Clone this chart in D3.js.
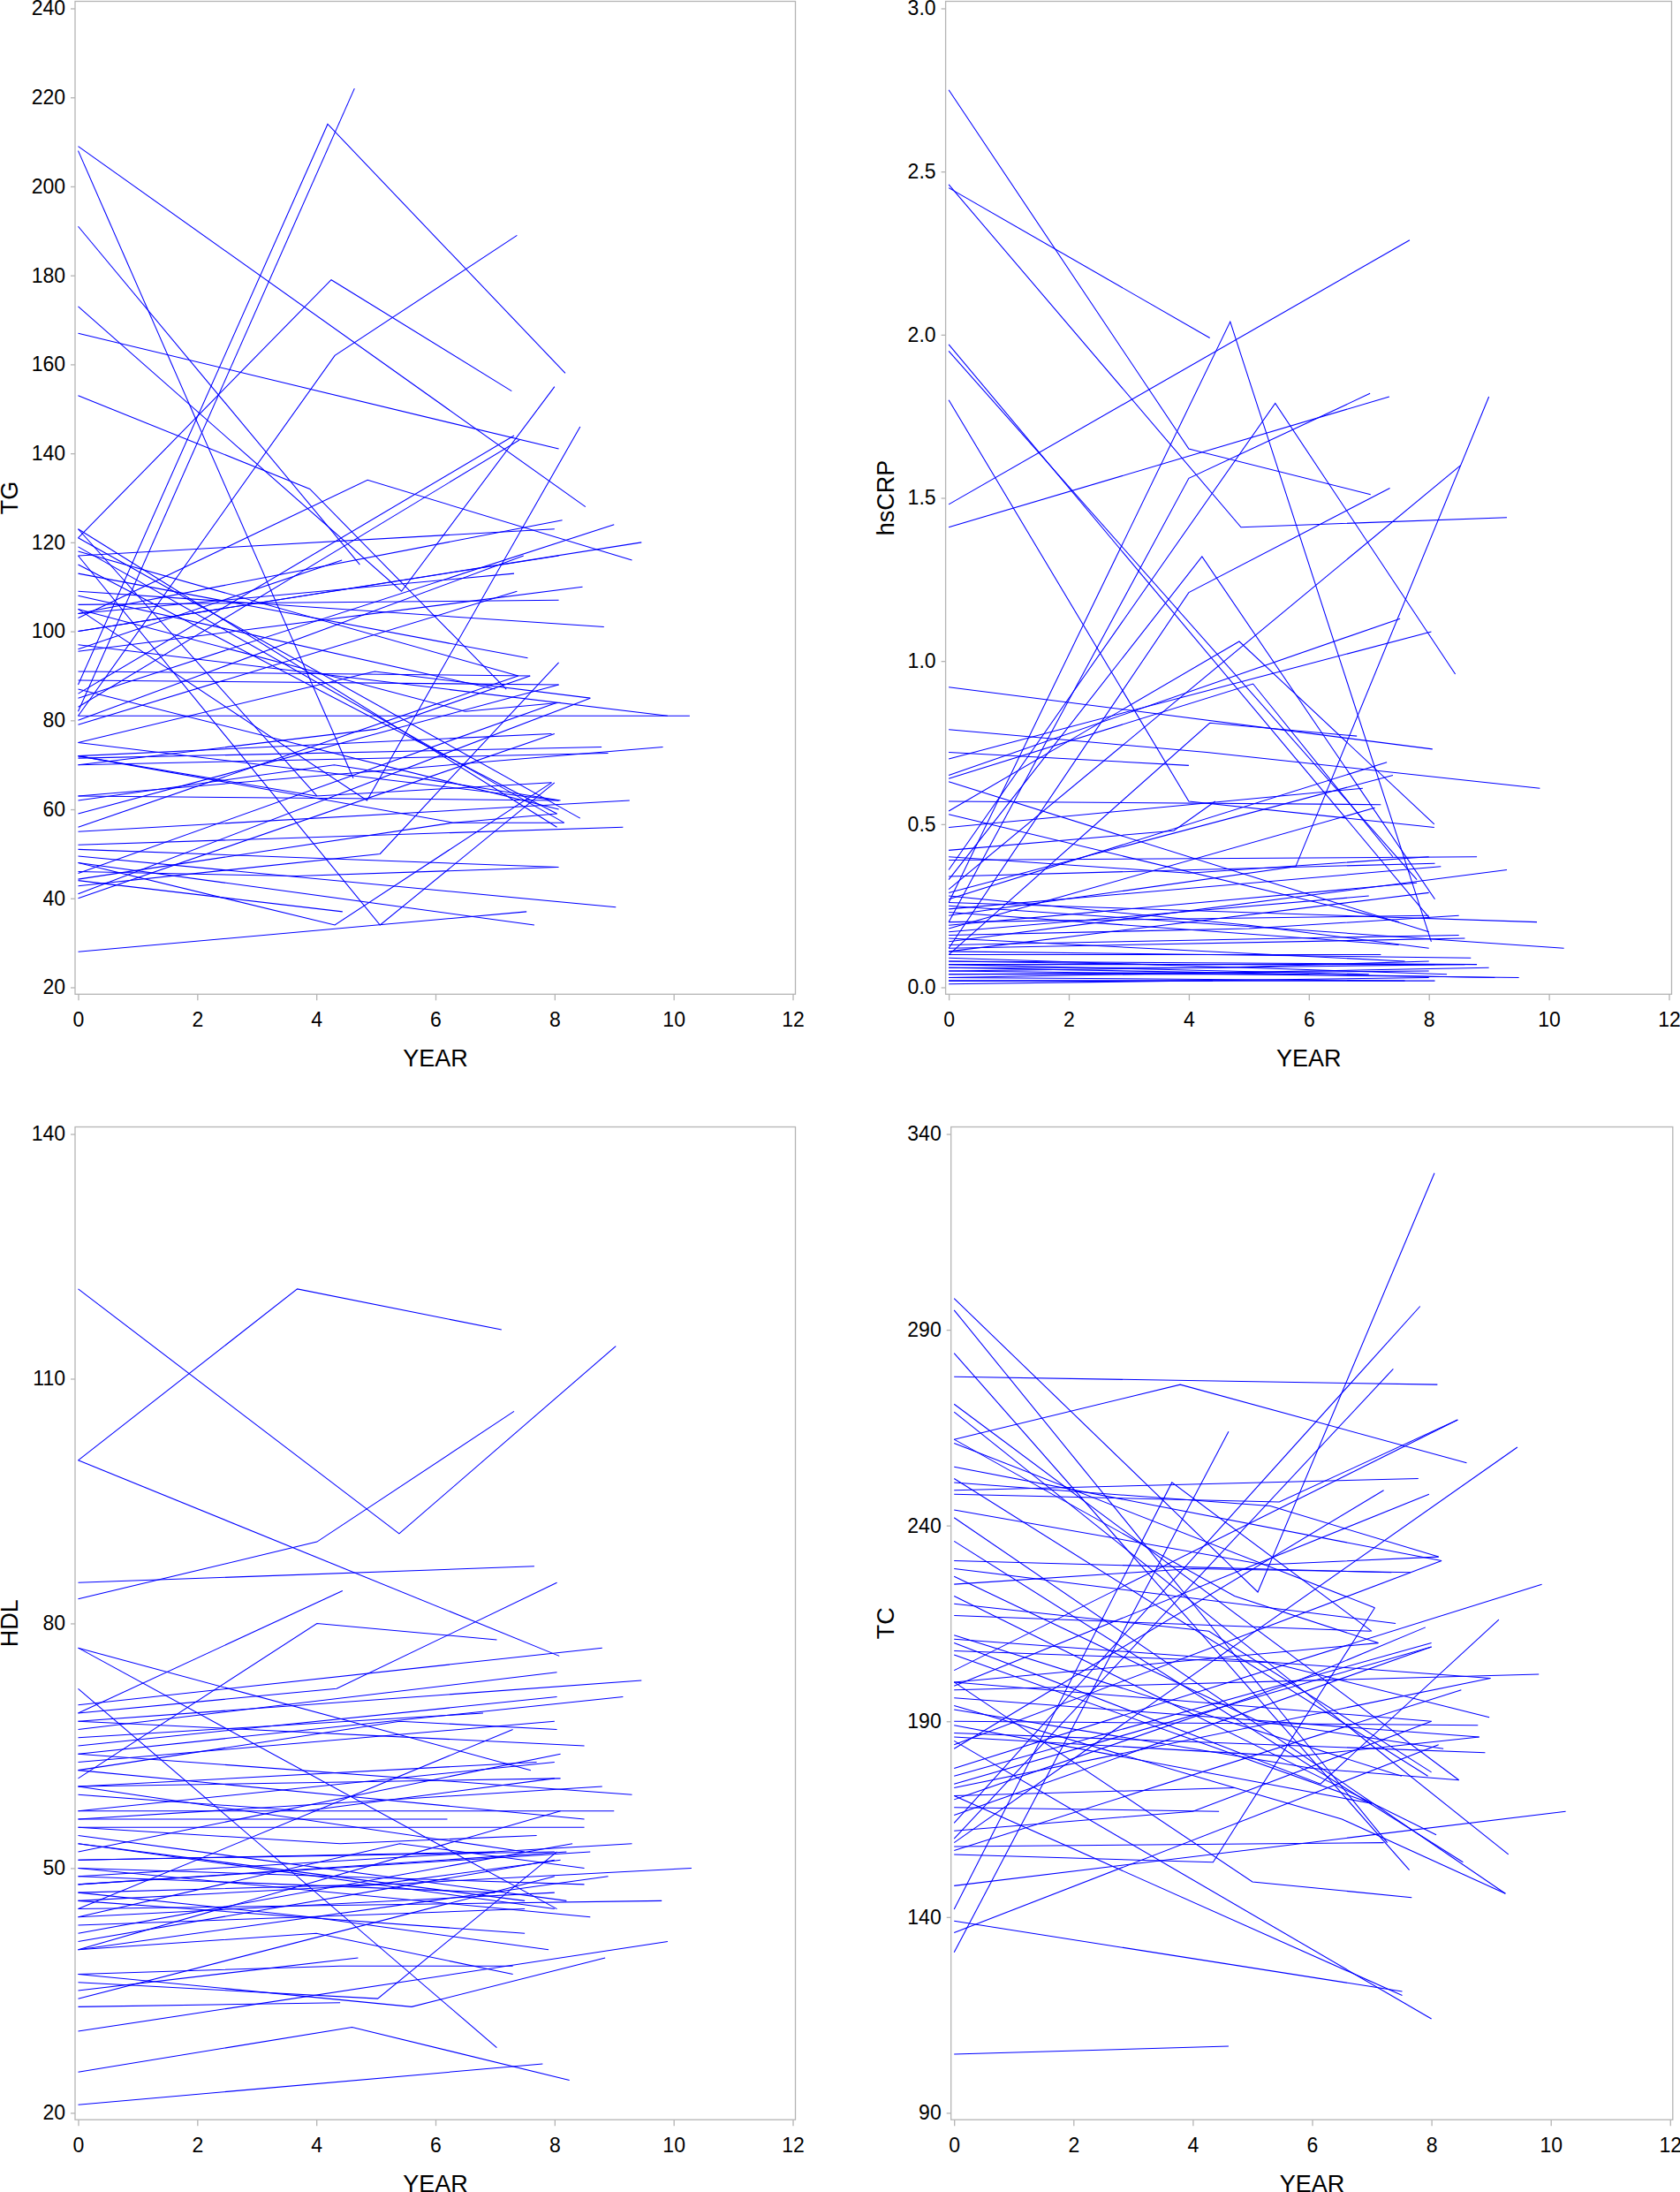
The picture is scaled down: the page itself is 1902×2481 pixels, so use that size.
<!DOCTYPE html>
<html>
<head>
<meta charset="utf-8">
<script src="https://cdn.jsdelivr.net/npm/d3@7"></script>
<style>
  body { margin: 0; background: #fff; }
  svg { display: block; }
  text { font-family: "Liberation Sans", Arial, sans-serif; fill: #000; }
</style>
</head>
<body>
<svg id="chart" width="1902" height="2481"></svg>
<script>
// ---------- tick labels ----------
const yearTicks = [0, 2, 4, 6, 8, 10, 12];
const tgTicks = [20, 40, 60, 80, 100, 120, 140, 160, 180, 200, 220, 240];
const hscrpTicks = [0.0, 0.5, 1.0, 1.5, 2.0, 2.5, 3.0];
const hdlTicks = [20, 50, 80, 110, 140];
const tcTicks = [90, 140, 190, 240, 290, 340];

// ---------- series: one polyline per subject, [YEAR, value] ----------
const tgSeries = [
  [[0,209],[8.52,128]], [[0,208],[4.62,67]], [[0,191],[4.73,115]],
  [[0,173],[5.43,109],[8.0,155]], [[0,167],[8.07,141]], [[0,153],[3.89,132],[7.19,87]],
  [[0,88],[4.19,214],[8.18,158]], [[0,82],[4.64,222]], [[0,121],[4.25,179],[7.28,154]],
  [[0,81],[4.31,162],[7.37,189]], [[0,103],[4.86,134],[9.3,116]], [[0,86],[7.32,144]],
  [[0,83],[7.41,143]], [[0,105],[4.85,62],[8.43,146]], [[0,28],[7.53,37]],
  [[0,48],[4.31,34],[7.95,66]], [[0,117],[5.07,34],[8.0,66]], [[0,123],[4.01,63]],
  [[0,123],[8.04,56]], [[0,121],[8.43,58]], [[0,119],[8.16,57]], [[0,115],[8.04,59]],
  [[0,118],[7.39,90]], [[0,113],[7.55,94]], [[0,96],[4.43,116]], [[0,117],[8.0,123]],
  [[0,104],[8.13,125]], [[0,104],[7.32,113]], [[0,106],[8.07,107]], [[0,100],[8.07,117]],
  [[0,95.5],[8.47,110]], [[0,109],[8.83,101]], [[0,100],[9.46,120]], [[0,85],[9.0,124]],
  [[0,80],[7.48,117]], [[0,79],[7.37,109]], [[0,91],[7.59,90]], [[0,89],[8.07,88]],
  [[0,75],[4.98,91],[8.6,85]], [[0,81],[10.27,81]], [[0,97],[9.9,81]], [[0,72],[7.95,77]],
  [[0,71.5],[8.79,74]], [[0,70],[8.9,72.6]], [[0,63],[9.82,74]], [[0,55],[9.26,62]],
  [[0,52],[9.15,56]], [[0,63],[8.07,62]], [[0,51],[8.07,47]], [[0,59],[8.07,88]],
  [[0,56],[7.39,90]], [[0,45.6],[8.04,84]], [[0,44.3],[6.3,57],[8.16,57]],
  [[0,42.8],[5.07,50],[8.07,93]], [[0,41],[8.6,85]], [[0,40],[8.0,77]],
  [[0,49.5],[9.03,38]], [[0,48],[7.66,34]], [[0,44],[4.44,37]], [[0,72],[4.0,63],[7.95,66]],
  [[0,46],[3.68,45],[8.04,47]], [[0,75],[8.07,62]], [[0,72],[6.3,57],[8.04,59]],
  [[0,105],[6.5,82],[8.1,84]], [[0,108],[7.0,87]], [[0,87],[8.07,60]],
  [[0,62],[4.3,70],[8.1,62]], [[0,70],[5.0,78],[7.59,90]]
];

const hscrpSeries = [
  [[0,2.75],[4.0,1.65],[7.03,1.51]], [[0,2.45],[4.35,1.99]], [[0,2.46],[4.87,1.41],[9.3,1.44]],
  [[0,1.97],[8.02,0.21]], [[0,1.95],[7.8,0.33]], [[0,1.8],[4.0,0.57],[8.09,0.49]],
  [[0,1.48],[7.68,2.29]], [[0,1.41],[7.34,1.81]], [[0,0.26],[4.69,2.04],[8.04,0.14]],
  [[0,0.36],[5.44,1.79],[8.44,0.96]], [[0,0.2],[4.0,1.56],[7.02,1.82]],
  [[0,0.33],[4.22,1.32],[8.1,0.27]], [[0,0.12],[4.0,1.21],[7.35,1.53]],
  [[0,0.3],[8.53,1.6]], [[0,0.22],[5.78,0.37],[9.0,1.81]], [[0,0.65],[7.52,1.13]],
  [[0,0.7],[8.04,1.09]], [[0,0.92],[8.06,0.73]], [[0,0.79],[4.3,0.72],[9.85,0.61]],
  [[0,0.72],[4.0,0.68]], [[0,0.54],[4.84,1.06],[8.09,0.5]], [[0,0.64],[5.07,0.93],[7.4,0.4]],
  [[0,0.1],[4.35,0.81],[6.8,0.77]], [[0,0.42],[3.75,0.48],[4.44,0.57]],
  [[0,0.57],[7.2,0.56]], [[0,0.53],[7.5,0.2]], [[0,0.49],[6.9,0.61]], [[0,0.63],[8.0,0.17]],
  [[0,0.4],[4.0,0.35],[8.0,0.4]], [[0,0.27],[7.3,0.69]], [[0,0.29],[7.4,0.65]],
  [[0,0.39],[8.8,0.4]], [[0,0.34],[8.1,0.38]], [[0,0.24],[8.2,0.37]], [[0,0.18],[7.1,0.55]],
  [[0,0.14],[9.3,0.36]], [[0,0.26],[9.8,0.2]], [[0,0.16],[5.0,0.18],[8.5,0.22]],
  [[0,0.25],[10.25,0.12]], [[0,0.2],[8.0,0.22]], [[0,0.12],[8.6,0.15]], [[0,0.23],[7.5,0.13]],
  [[0,0.17],[7.0,0.28]], [[0,0.11],[8.0,0.29]], [[0,0.28],[5.0,0.19],[8.0,0.12]],
  [[0,0.08],[8.8,0.07]], [[0,0.06],[9.1,0.03]], [[0,0.05],[9.5,0.03]], [[0,0.07],[8.1,0.07]],
  [[0,0.04],[8.0,0.05]], [[0,0.03],[7.6,0.02]], [[0,0.09],[8.3,0.04]], [[0,0.02],[8.1,0.02]],
  [[0,0.06],[4.5,0.06],[8.0,0.08]], [[0,0.1],[7.2,0.1]], [[0,0.13],[8.5,0.16]],
  [[0,0.04],[6.0,0.04]], [[0,0.15],[7.6,0.08]], [[0,0.01],[8.0,0.03]], [[0,0.08],[3.5,0.07]],
  [[0,0.05],[8.6,0.07]], [[0,0.19],[7.8,0.32]], [[0,0.03],[9.0,0.06]], [[0,0.07],[7.0,0.04]],
  [[0,0.02],[4.4,0.02]], [[0,0.11],[8.7,0.09]]
];

const hdlSeries = [
  [[0,121],[5.39,91],[9.03,114]], [[0,100],[3.68,121],[7.11,116]], [[0,100],[8.08,76]],
  [[0,85],[7.66,87]], [[0,83],[4.01,90],[7.32,106]], [[0,69],[4.44,84]],
  [[0,61],[4.01,80],[7.03,78]], [[0,69],[4.34,72],[8.04,85]], [[0,77],[8.04,45]],
  [[0,72],[7.03,28]], [[0,77],[7.6,62]], [[0,70],[8.8,77]], [[0,68],[9.46,73]],
  [[0,67],[8.04,74]], [[0,65],[8.04,71]], [[0,64],[9.15,71]], [[0,66],[6.8,69]],
  [[0,63],[8.0,68]], [[0,62],[5.4,68],[8.04,67]], [[0,68],[8.5,65]], [[0,60],[7.7,63]],
  [[0,57],[8.0,63]], [[0,60],[8.1,61]], [[0,64],[9.3,59]], [[0,56],[8.8,60]],
  [[0,59],[3.8,57],[8.0,61]], [[0,55],[8.5,55]], [[0,57],[9.0,57]], [[0,55],[4.4,53],[7.7,54]],
  [[0,53],[7.5,46]], [[0,51],[8.0,52]], [[0,51],[7.0,52]], [[0,49],[9.3,53]], [[0,50],[8.5,48]],
  [[0,48],[8.2,52]], [[0,47],[5.0,48],[8.1,51]], [[0,46],[10.3,50]], [[0,45],[9.8,46]],
  [[0,44],[8.0,47]], [[0,43],[7.5,45]], [[0,46],[7.5,42]], [[0,41],[8.0,51]], [[0,40],[8.9,49]],
  [[0,37],[5.6,33],[8.85,39]], [[0,30],[9.9,41]], [[0,40],[4.0,42],[7.3,37]],
  [[0,37],[4.4,38],[7.3,38]], [[0,36],[5.03,34],[8.04,52]], [[0,35],[4.7,39]],
  [[0,34],[8.0,49]], [[0,33],[4.4,33.5]], [[0,25],[4.6,30.5],[8.25,24]], [[0,21],[7.8,26]],
  [[0,62],[8.5,56]], [[0,60],[7.5,52]], [[0,54],[8.2,46]], [[0,50],[8.6,44]], [[0,49],[7.0,47]],
  [[0,47],[3.9,44],[7.9,40]], [[0,44],[5.4,53],[8.5,50]], [[0,42],[8.3,53]], [[0,53],[8.0,45]],
  [[0,56],[6.2,56]], [[0,48],[8.6,52]], [[0,52],[8.1,64]], [[0,45],[7.3,67]], [[0,40],[8.1,57]]
];

const tcSeries = [
  [[0,298],[5.09,223],[8.05,330]], [[0,295],[7.26,159]], [[0,284],[7.63,152]],
  [[0,278],[8.1,276]], [[0,262],[3.79,276],[8.59,256]], [[0,271],[8.46,175]],
  [[0,269],[9.29,156]], [[0,262],[4.7,222],[7.11,210]], [[0,261],[7.05,219]],
  [[0,252],[7.94,176]], [[0,251],[5.3,245],[8.12,232]], [[0,249],[7.78,252]],
  [[0,248],[5.45,246],[8.44,267]], [[0,242],[9.24,146]], [[0,236],[8.53,154]],
  [[0,231],[7.33,228]], [[0,225],[4.0,229],[7.65,228]], [[0,222],[8.08,161]],
  [[0,220],[4.27,213],[8.0,177]], [[0,217],[6.98,213]], [[0,212],[7.5,176]],
  [[0,211],[8.99,201]], [[0,208],[5.3,205],[8.97,191]], [[0,207],[7.0,169]],
  [[0,200],[8.0,190]], [[0,199],[7.96,248]], [[0,198],[9.8,202]], [[0,196],[8.8,186]],
  [[0,190],[8.78,189]], [[0,187],[8.9,182]], [[0,184],[8.17,231]], [[0,183],[7.2,249]],
  [[0,178],[9.85,225]], [[0,176],[8.0,210]], [[0,174],[8.0,209]], [[0,171],[4.71,173]],
  [[0,168],[4.44,167]], [[0,164],[7.81,296]], [[0,160],[7.36,280]], [[0,159],[9.44,260]],
  [[0,157],[8.5,198]], [[0,156],[4.34,154],[7.05,219]], [[0,148],[10.25,167]],
  [[0,142],[3.65,251],[7.0,213]], [[0,139],[7.51,121]], [[0,136],[8.12,184]],
  [[0,131],[4.6,264]], [[0,105],[4.6,107]], [[0,200],[5.0,149],[7.67,145]],
  [[0,185],[8.0,114]], [[0,210],[6.14,174],[9.13,216]], [[0,171],[7.51,120]],
  [[0,194],[6.5,165],[9.24,146]], [[0,229],[7.4,215]], [[0,244],[5.2,230],[8.12,232]],
  [[0,255],[8.17,231]], [[0,186],[5.7,181],[8.8,186]], [[0,166],[8.0,209]],
  [[0,162],[4.0,167],[8.0,190]], [[0,200],[7.11,210]], [[0,203],[8.44,267]],
  [[0,189],[7.0,169]], [[0,193],[6.0,178],[8.46,175]], [[0,173],[8.99,201]],
  [[0,158],[7.2,159]], [[0,170],[5.7,200],[7.9,214]], [[0,227],[5.1,190],[8.2,183]]
];

// ---------- panels ----------
const panels = [
  { label: "TG",    series: tgSeries,    ticks: tgTicks,    fmt: d3.format("d"),
    x0: 88.5,   x12: 897.5,  yTop: 9.5,    yBot: 1117.5, labelX: 11 },
  { label: "hsCRP", series: hscrpSeries, ticks: hscrpTicks, fmt: d3.format(".1f"),
    x0: 1074.1, x12: 1889.5, yTop: 9.5,    yBot: 1117.5, labelX: 1002.5 },
  { label: "HDL",   series: hdlSeries,   ticks: hdlTicks,   fmt: d3.format("d"),
    x0: 88.5,   x12: 897.5,  yTop: 1283.5, yBot: 2391.4, labelX: 11 },
  { label: "TC",    series: tcSeries,    ticks: tcTicks,    fmt: d3.format("d"),
    x0: 1080.2, x12: 1890.8, yTop: 1283.5, yBot: 2391.4, labelX: 1002.5 }
];

const svg = d3.select("#chart");
const frameColor = "#b4b4b4";

panels.forEach(p => {
  const x = d3.scaleLinear().domain([0, 12]).range([p.x0, p.x12]);
  const y = d3.scaleLinear().domain([p.ticks[0], p.ticks[p.ticks.length - 1]]).range([p.yBot, p.yTop]);
  const left = p.x0 - 3.5, right = p.x12 + 3, top = p.yTop - 8, bottom = p.yBot + 7.8;

  const g = svg.append("g");

  // frame
  g.append("rect")
    .attr("x", left).attr("y", top)
    .attr("width", right - left).attr("height", bottom - top)
    .attr("fill", "none").attr("stroke", frameColor).attr("stroke-width", 1.3);

  // lines
  const line = d3.line().x(d => x(d[0])).y(d => y(d[1]));
  g.append("g")
    .selectAll("path")
    .data(p.series)
    .join("path")
    .attr("d", line)
    .attr("fill", "none")
    .attr("stroke", "#0000ff")
    .attr("stroke-width", 1.05);

  // y axis
  const ya = g.append("g")
    .attr("transform", `translate(${left},0)`)
    .call(d3.axisLeft(y).tickValues(p.ticks).tickFormat(p.fmt).tickSize(5).tickPadding(6));
  // x axis
  const xa = g.append("g")
    .attr("transform", `translate(0,${bottom})`)
    .call(d3.axisBottom(x).tickValues(yearTicks).tickFormat(d3.format("d")).tickSize(7).tickPadding(13));

  [ya, xa].forEach(a => {
    a.select(".domain").remove();
    a.selectAll(".tick line").attr("stroke", frameColor).attr("stroke-width", 1.3);
    a.selectAll(".tick text")
      .style("font-family", '"Liberation Sans", Arial, sans-serif')
      .style("font-size", "23px")
      .attr("fill", "#000");
  });

  // axis titles
  g.append("text")
    .attr("x", (p.x0 + p.x12) / 2)
    .attr("y", bottom + 82)
    .attr("text-anchor", "middle")
    .style("font-size", "27px")
    .text("YEAR");

  g.append("text")
    .attr("transform", `translate(${p.labelX},${(top + bottom) / 2}) rotate(-90)`)
    .attr("text-anchor", "middle")
    .attr("dominant-baseline", "central")
    .style("font-size", "27px")
    .text(p.label);
});
</script>
</body>
</html>
